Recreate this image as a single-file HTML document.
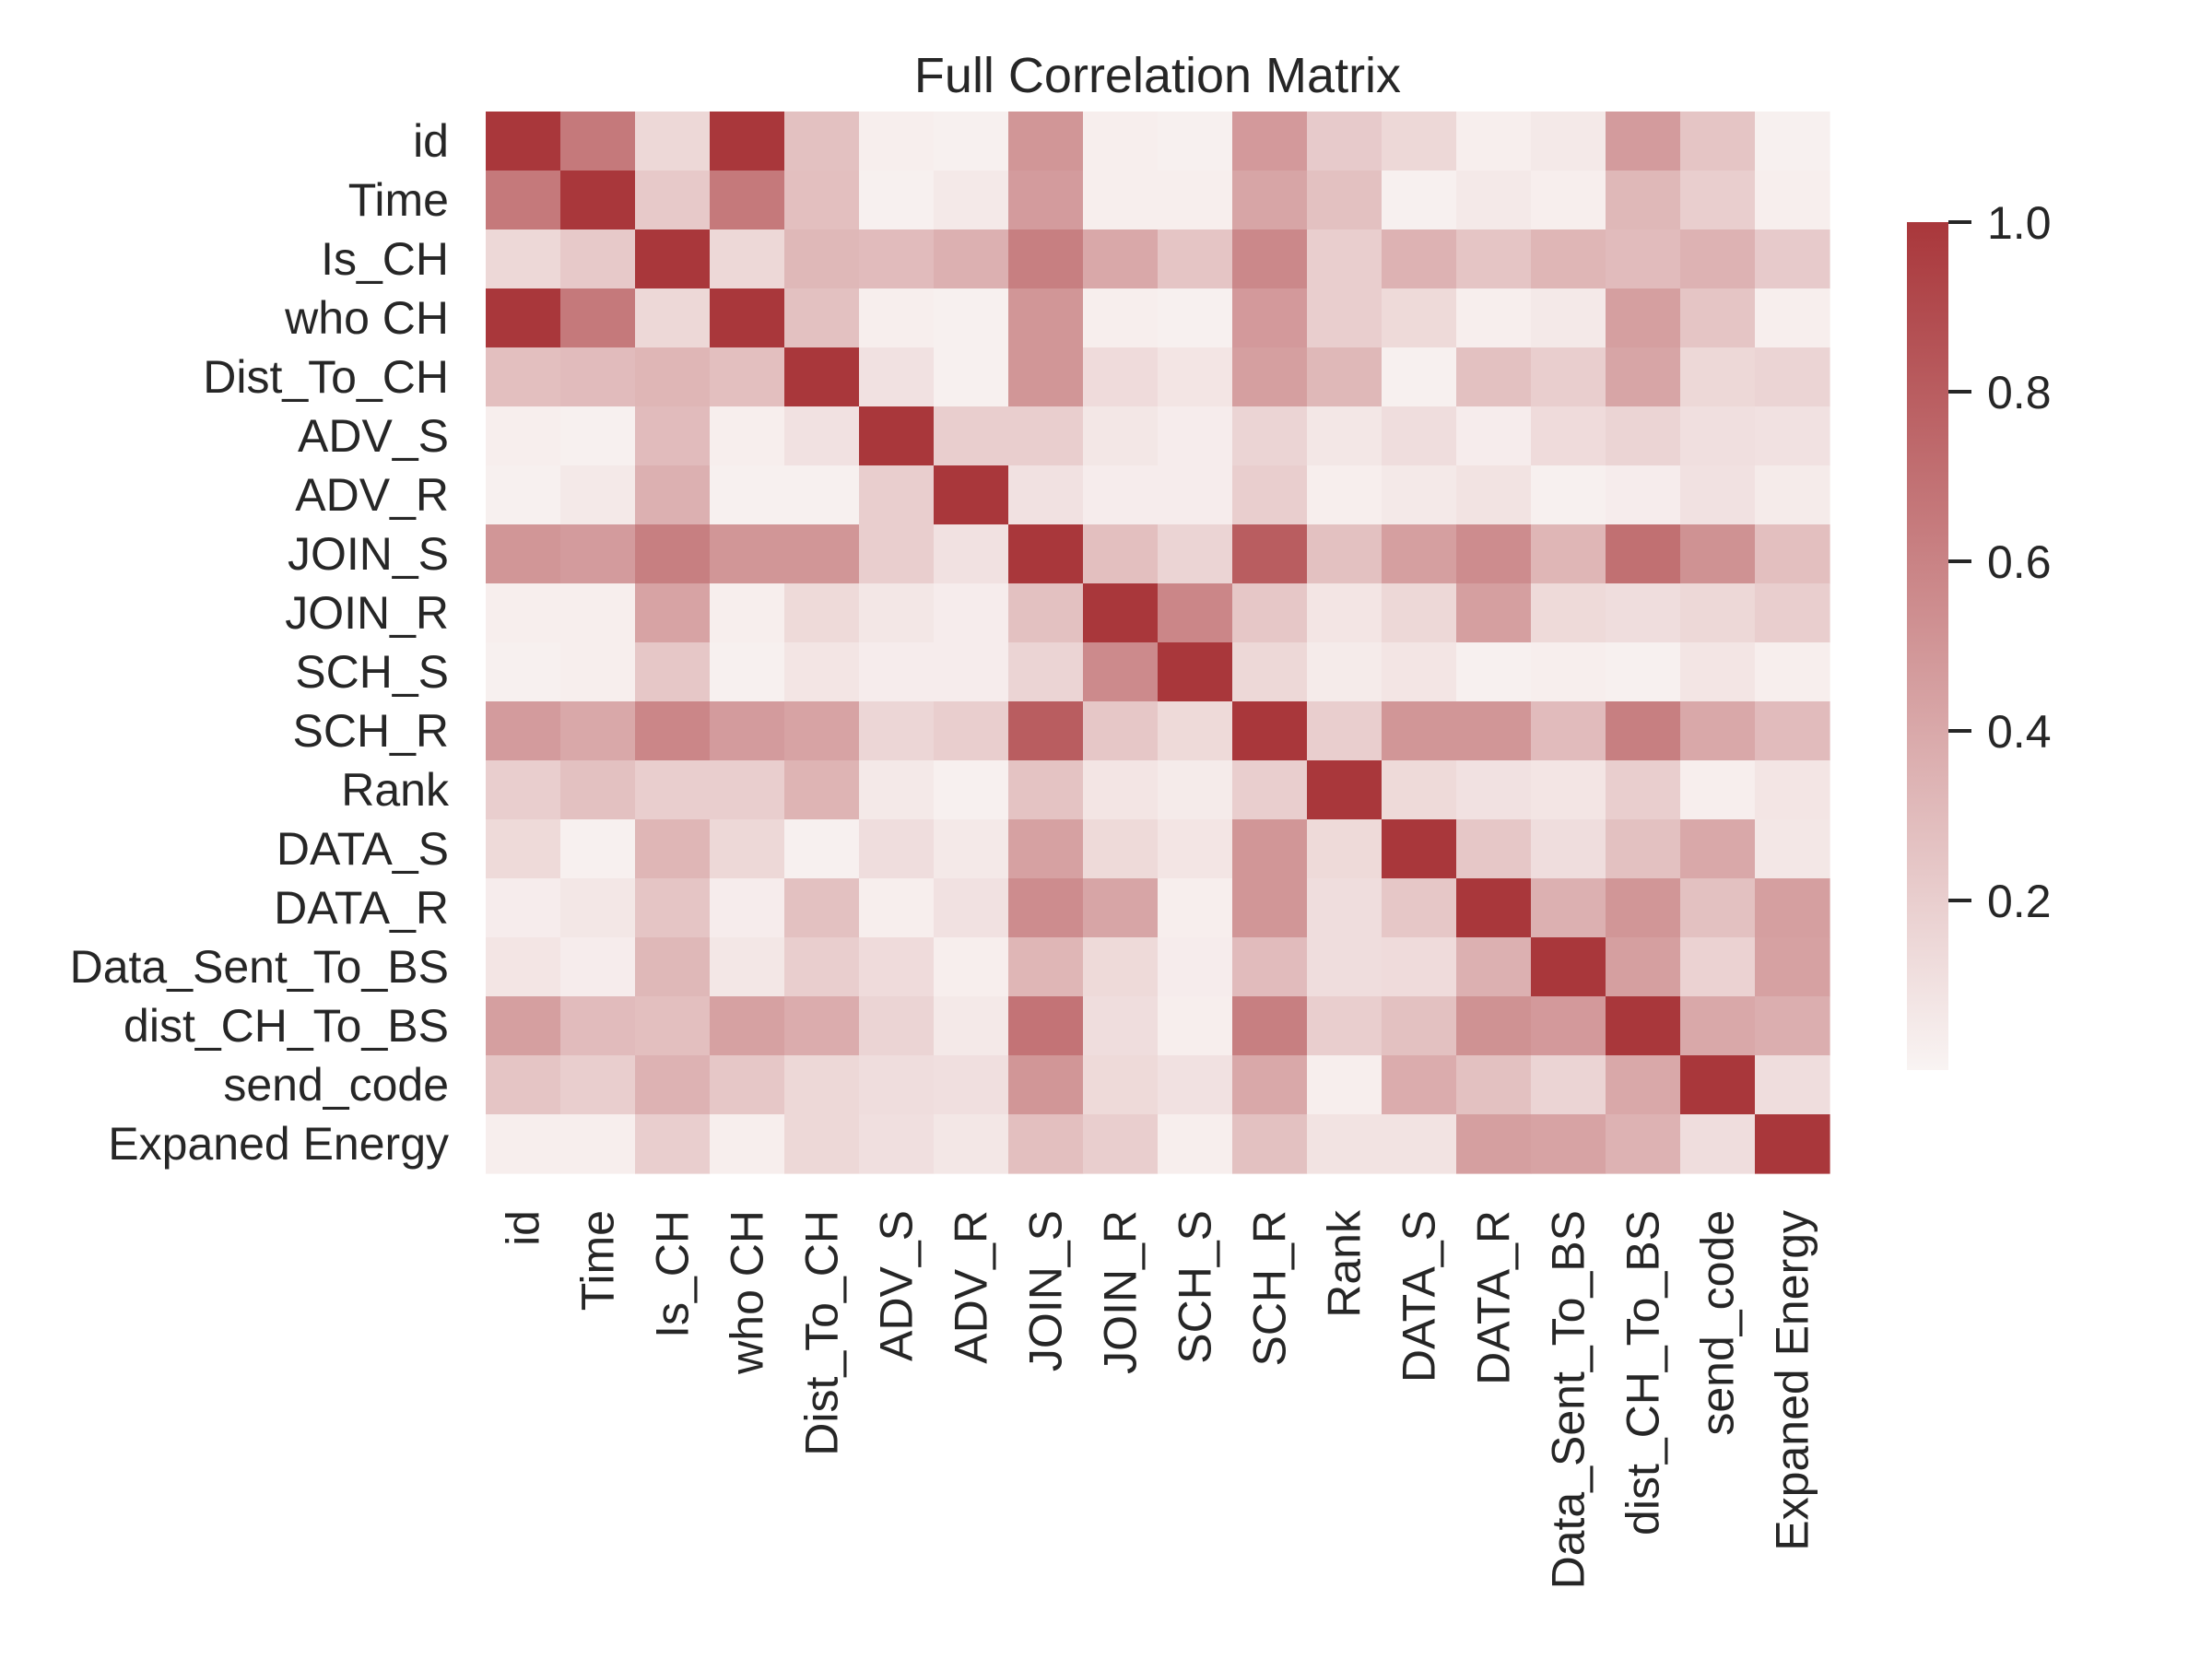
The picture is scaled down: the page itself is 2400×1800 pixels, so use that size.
<!DOCTYPE html>
<html><head><meta charset="utf-8"><style>
html,body{margin:0;padding:0;background:#fff;}
svg{display:block;font-family:"Liberation Sans",Arial,sans-serif;fill:#262626;}
</style></head><body>
<svg id="chart" width="2400" height="1800" viewBox="0 0 2400 1800" xmlns="http://www.w3.org/2000/svg">
<text x="1256" y="100" font-size="54" text-anchor="middle">Full Correlation Matrix</text>
<g id="cells"></g>
<g id="ylabels"></g>
<g id="xlabels"></g>
<defs><linearGradient id="cbgrad" x1="0" y1="1" x2="0" y2="0">
<stop offset="0" stop-color="rgb(249,244,243)"/><stop offset="1" stop-color="rgb(169,55,59)"/></linearGradient></defs>
<rect x="2069" y="241" width="45" height="920" fill="url(#cbgrad)"/>
<g id="cbticks"></g>
</svg>
<script>
const labels = ["id","Time","Is_CH","who CH","Dist_To_CH","ADV_S","ADV_R","JOIN_S","JOIN_R","SCH_S","SCH_R","Rank","DATA_S","DATA_R","Data_Sent_To_BS","dist_CH_To_BS","send_code ","Expaned Energy"];
const row0 = [1,.65,.15,1,.27,.03,.02,.5,.03,.02,.48,.22,.15,.03,.06,.47,.25,.02];
const row1 = [.65,1,.23,.65,.28,.02,.06,.47,.03,.03,.42,.27,.02,.06,.03,.32,.2,.03];
const row2 = [.15,.23,1,.15,.32,.3,.36,.62,.4,.25,.57,.2,.35,.25,.33,.3,.35,.22];
const row3 = [1,.65,.15,1,.27,.03,.02,.5,.03,.02,.48,.2,.14,.03,.06,.45,.25,.03];
const row4 = [.28,.3,.33,.28,1,.1,.02,.5,.13,.08,.45,.32,.02,.27,.2,.42,.15,.17];
const row5 = [.03,.02,.3,.03,.1,1,.2,.2,.07,.04,.17,.07,.12,.04,.13,.17,.11,.1];
const row6 = [.02,.06,.36,.02,.02,.2,1,.1,.04,.04,.2,.03,.06,.09,.02,.04,.1,.05];
const row7 = [.5,.47,.62,.5,.5,.2,.1,1,.28,.17,.8,.27,.45,.55,.33,.7,.52,.28];
const row8 = [.03,.03,.43,.03,.14,.07,.04,.27,1,.58,.24,.08,.15,.45,.14,.12,.15,.2];
const row9 = [.02,.03,.24,.02,.08,.04,.04,.17,.56,1,.15,.05,.08,.02,.03,.02,.08,.03];
const row10 = [.47,.4,.58,.47,.43,.16,.2,.8,.24,.14,1,.2,.5,.5,.3,.62,.4,.3];
const row11 = [.2,.27,.2,.2,.34,.06,.02,.26,.08,.05,.2,1,.14,.1,.08,.2,.03,.08];
const row12 = [.14,.02,.33,.15,.02,.12,.06,.44,.14,.08,.5,.14,1,.24,.12,.27,.4,.07];
const row13 = [.04,.07,.25,.04,.27,.03,.1,.55,.42,.03,.5,.12,.24,1,.36,.5,.27,.45];
const row14 = [.08,.04,.32,.07,.2,.13,.03,.33,.14,.04,.3,.12,.13,.36,1,.45,.18,.44];
const row15 = [.45,.3,.28,.44,.38,.17,.06,.68,.12,.03,.62,.2,.27,.52,.48,1,.4,.37];
const row16 = [.25,.2,.35,.24,.15,.12,.11,.5,.14,.1,.4,.03,.38,.27,.17,.4,1,.12];
const row17 = [.03,.03,.2,.03,.15,.11,.07,.28,.2,.03,.27,.09,.09,.45,.43,.35,.12,1];
const matrix = [row0,row1,row2,row3,row4,row5,row6,row7,row8,row9,row10,row11,row12,row13,row14,row15,row16,row17];
const cbTicks = [0.2,0.4,0.6,0.8,1.0];
const cbTickLabels = ["0.2","0.4","0.6","0.8","1.0"];

const NS = "http://www.w3.org/2000/svg";
const X0 = 527, Y0 = 121, CW = 81, CH = 64;
const vmin = 0, vmax = 1;
const xPos = i => X0 + i * CW;
const yPos = j => Y0 + j * CH;
const cbY = v => 1161 - (v - vmin) / (vmax - vmin) * 920;
function color(v){
  const t = Math.max(0, Math.min(1, (v - vmin) / (vmax - vmin)));
  const lo = [249,244,243], hi = [169,55,59];
  const c = lo.map((a,k) => Math.round(a + (hi[k]-a)*t));
  return `rgb(${c[0]},${c[1]},${c[2]})`;
}
const cells = document.getElementById('cells');
matrix.forEach((row, j) => {
  row.forEach((v, i) => {
    const r = document.createElementNS(NS, 'rect');
    r.setAttribute('x', xPos(i)); r.setAttribute('y', yPos(j));
    r.setAttribute('width', CW + 0.6); r.setAttribute('height', CH + 0.6);
    r.setAttribute('fill', color(v));
    
    
    cells.appendChild(r);
  });
});
const yl = document.getElementById('ylabels');
const xl = document.getElementById('xlabels');
labels.forEach((lab, i) => {
  const t = document.createElementNS(NS, 'text');
  t.setAttribute('x', X0 - 40); t.setAttribute('y', yPos(i) + CH/2 + 17);
  t.setAttribute('text-anchor', 'end'); t.setAttribute('font-size', '50');
  t.textContent = lab;
  
  
  yl.appendChild(t);
  const u = document.createElementNS(NS, 'text');
  const cx = xPos(i) + CW/2 + 17, cy = Y0 + 18*CH + 40;
  u.setAttribute('x', cx); u.setAttribute('y', cy);
  u.setAttribute('text-anchor', 'end'); u.setAttribute('font-size', '50');
  u.setAttribute('transform', `rotate(-90 ${cx} ${cy})`);
  u.textContent = lab;
  
  
  xl.appendChild(u);
});
const cbt = document.getElementById('cbticks');
cbTicks.forEach((v, k) => {
  const y = cbY(v);
  const l = document.createElementNS(NS, 'line');
  l.setAttribute('x1', 2114); l.setAttribute('x2', 2139);
  l.setAttribute('y1', y); l.setAttribute('y2', y);
  l.setAttribute('stroke', '#262626'); l.setAttribute('stroke-width', '4');
  
  
  cbt.appendChild(l);
  const t = document.createElementNS(NS, 'text');
  t.setAttribute('x', 2156); t.setAttribute('y', y + 18);
  t.setAttribute('font-size', '50');
  t.textContent = cbTickLabels[k];
  
  
  cbt.appendChild(t);
});
</script>
</body></html>
